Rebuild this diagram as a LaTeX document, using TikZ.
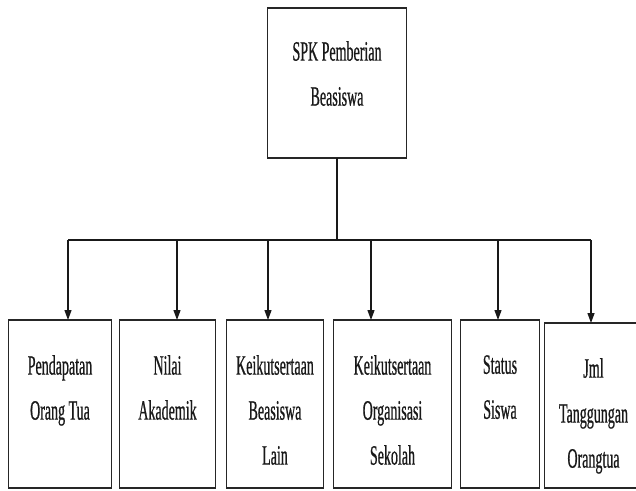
\documentclass[tikz,border=0pt]{standalone}
\usepackage{fontspec}
\usetikzlibrary{arrows.meta}
\newfontfamily\lblfont{Liberation Serif}[FakeStretch=0.5,FakeBold=0.6]
\newcommand{\lblsize}{\lblfont\fontsize{28}{45}\selectfont}
\begin{document}
\begin{tikzpicture}[x=1pt,y=-1pt,
  boxshape/.style={draw=black!85,line width=1pt,rectangle,inner sep=0pt,anchor=north west},
  lbl/.style={font=\lblsize,align=center,inner sep=0pt,anchor=north,text=black!90},
  edge/.style={draw=black!90,line width=1.2pt},
  feed/.style={edge,-{Triangle[length=10pt,width=7pt]}}]
\useasboundingbox (0,0) rectangle (636,490);
\clip (0,0) rectangle (636,490);
\fill[white] (0,0) rectangle (636,490);

% root box
\node[boxshape,minimum width=139pt,minimum height=149pt] (root) at (267,8) {};
\node[lbl] (troot) at ([yshift=-33pt]root.north) {SPK Pemberian\\Beasiswa};

% criteria boxes
\node[boxshape,minimum width=103pt,minimum height=167pt] (b1) at (8,320) {};
\node[boxshape,minimum width=96pt,minimum height=167pt] (b2) at (119,320) {};
\node[boxshape,minimum width=97pt,minimum height=167pt] (b3) at (226,320) {};
\node[boxshape,minimum width=118pt,minimum height=167pt] (b4) at (333,320) {};
\node[boxshape,minimum width=79pt,minimum height=167pt] (b5) at (460,320) {};
\node[boxshape,minimum width=98pt,minimum height=164pt] (b6) at (544,323) {};

\node[lbl] (t1) at ([yshift=-35pt]b1.north) {Pendapatan\\Orang Tua};
\node[lbl] (t2) at ([yshift=-35pt]b2.north) {Nilai\\Akademik};
\node[lbl] (t3) at ([yshift=-35pt]b3.north) {Keikutsertaan\\Beasiswa\\Lain};
\node[lbl] (t4) at ([yshift=-35pt]b4.north) {Keikutsertaan\\Organisasi\\Sekolah};
\node[lbl] (t5) at ([yshift=-35pt]b5.north) {Status\\Siswa};
\node[lbl] (t6) at ([yshift=-35pt]b6.north) {Jml\\Tanggungan\\Orangtua};

% heavier top and bottom rims of the boxes
\foreach \b in {root,b1,b2,b3,b4,b5,b6}{
  \draw[black!85,line width=2pt] (\b.north west) -- (\b.north east);
  \draw[black!85,line width=2pt] (\b.south west) -- (\b.south east);
}

% distribution bus
\coordinate (j0) at (337,240);
\coordinate (j1) at (68,240);
\coordinate (j2) at (177,240);
\coordinate (j3) at (268,240);
\coordinate (j4) at (371,240);
\coordinate (j5) at (498,240);
\coordinate (j6) at (591,240);

\draw[edge] (root.south -| j0) -- (j0);
\draw[edge] (j1) -- (j6);
\draw[feed] (j1) -- (j1 |- b1.north);
\draw[feed] (j2) -- (j2 |- b2.north);
\draw[feed] (j3) -- (j3 |- b3.north);
\draw[feed] (j4) -- (j4 |- b4.north);
\draw[feed] (j5) -- (j5 |- b5.north);
\draw[feed] (j6) -- (j6 |- b6.north);
\end{tikzpicture}
\end{document}
